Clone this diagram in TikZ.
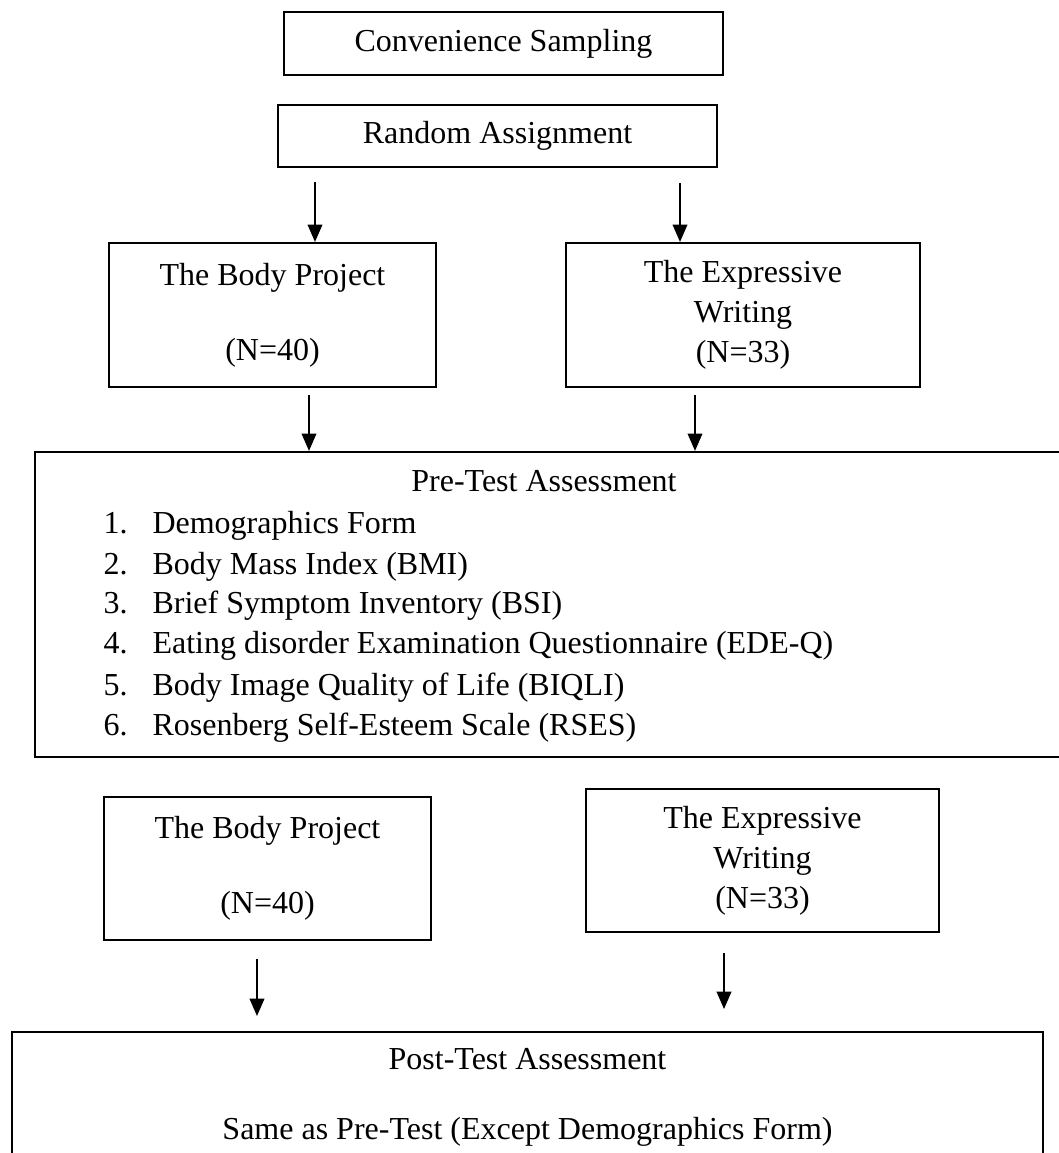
\documentclass[tikz,border=0pt]{standalone}
\usepackage{fontspec}
\setmainfont{Liberation Serif}
\usetikzlibrary{arrows.meta}

\tikzset{
  box/.style={rectangle,draw,line width=0.8pt,align=center,inner sep=0pt,font=\fontsize{12}{15}\selectfont},
  txt/.style={inner sep=0pt,font=\fontsize{12}{15}\selectfont,text height=8.5pt,text depth=2.5pt},
  arr/.style={line width=0.6pt,-{Triangle[length=6.5pt,width=5.5pt]}}
}

\begin{document}
\begin{tikzpicture}[x=0.375pt,y=-0.375pt]
\useasboundingbox (0,0) rectangle (1059,1153);

\begin{scope}[every node/.style={box}]
  \node[minimum width=164.6pt,minimum height=23.6pt] (CS) at (503.5,43.5) {Convenience Sampling};
  \node[minimum width=164.6pt,minimum height=23.3pt] (RA) at (497.5,136) {Random Assignment};
  \node[minimum width=122.6pt,minimum height=54pt] (BPa) at (272.5,315) {The Body Project\\[13pt](N=40)};
  \node[minimum width=132.8pt,minimum height=54pt] (EWa) at (743,315) {The Expressive\\Writing\\(N=33)};
  \node[minimum width=388.1pt,minimum height=114.4pt] (Pre) at (552.5,604.5) {};
  \node[minimum width=122.6pt,minimum height=53.6pt] (BPb) at (267.5,868.5) {The Body Project\\[13pt](N=40)};
  \node[minimum width=132.4pt,minimum height=53.6pt] (EWb) at (762.5,860.5) {The Expressive\\Writing\\(N=33)};
  \node[minimum width=386.6pt,minimum height=48.8pt] (Post) at (527.5,1097) {Post-Test Assessment\\[11.25pt]Same as Pre-Test (Except Demographics Form)};
\end{scope}

\begin{scope}[every node/.style={txt}]
  \node (PreT) at (544,483) {Pre-Test Assessment};
  \foreach \i/\yy/\lbl in {1/525/Demographics Form,2/566/Body Mass Index (BMI),3/605/Brief Symptom Inventory (BSI),4/645/Eating disorder Examination Questionnaire (EDE-Q),5/687/Body Image Quality of Life (BIQLI),6/727/Rosenberg Self-Esteem Scale (RSES)}{
    \node[anchor=west] (num\i) at (103,\yy) {\i.};
    \node[anchor=west] (itm\i) at (152,\yy) {\lbl};
  }
\end{scope}

\coordinate (a1) at (315,182);
\coordinate (a2) at (680,183);
\coordinate (a3) at (309,395);
\coordinate (a4) at (695,395);
\coordinate (a5) at (257,959);
\coordinate (e5) at (257,1016);
\coordinate (a6) at (724,953);
\coordinate (e6) at (724,1009);

\begin{scope}
  \path[arr] (a1) edge (a1 |- BPa.north);
  \path[arr] (a2) edge (a2 |- EWa.north);
  \path[arr] (a3) edge (a3 |- Pre.north);
  \path[arr] (a4) edge (a4 |- Pre.north);
  \path[arr] (a5) edge (e5);
  \path[arr] (a6) edge (e6);
\end{scope}
\end{tikzpicture}
\end{document}
